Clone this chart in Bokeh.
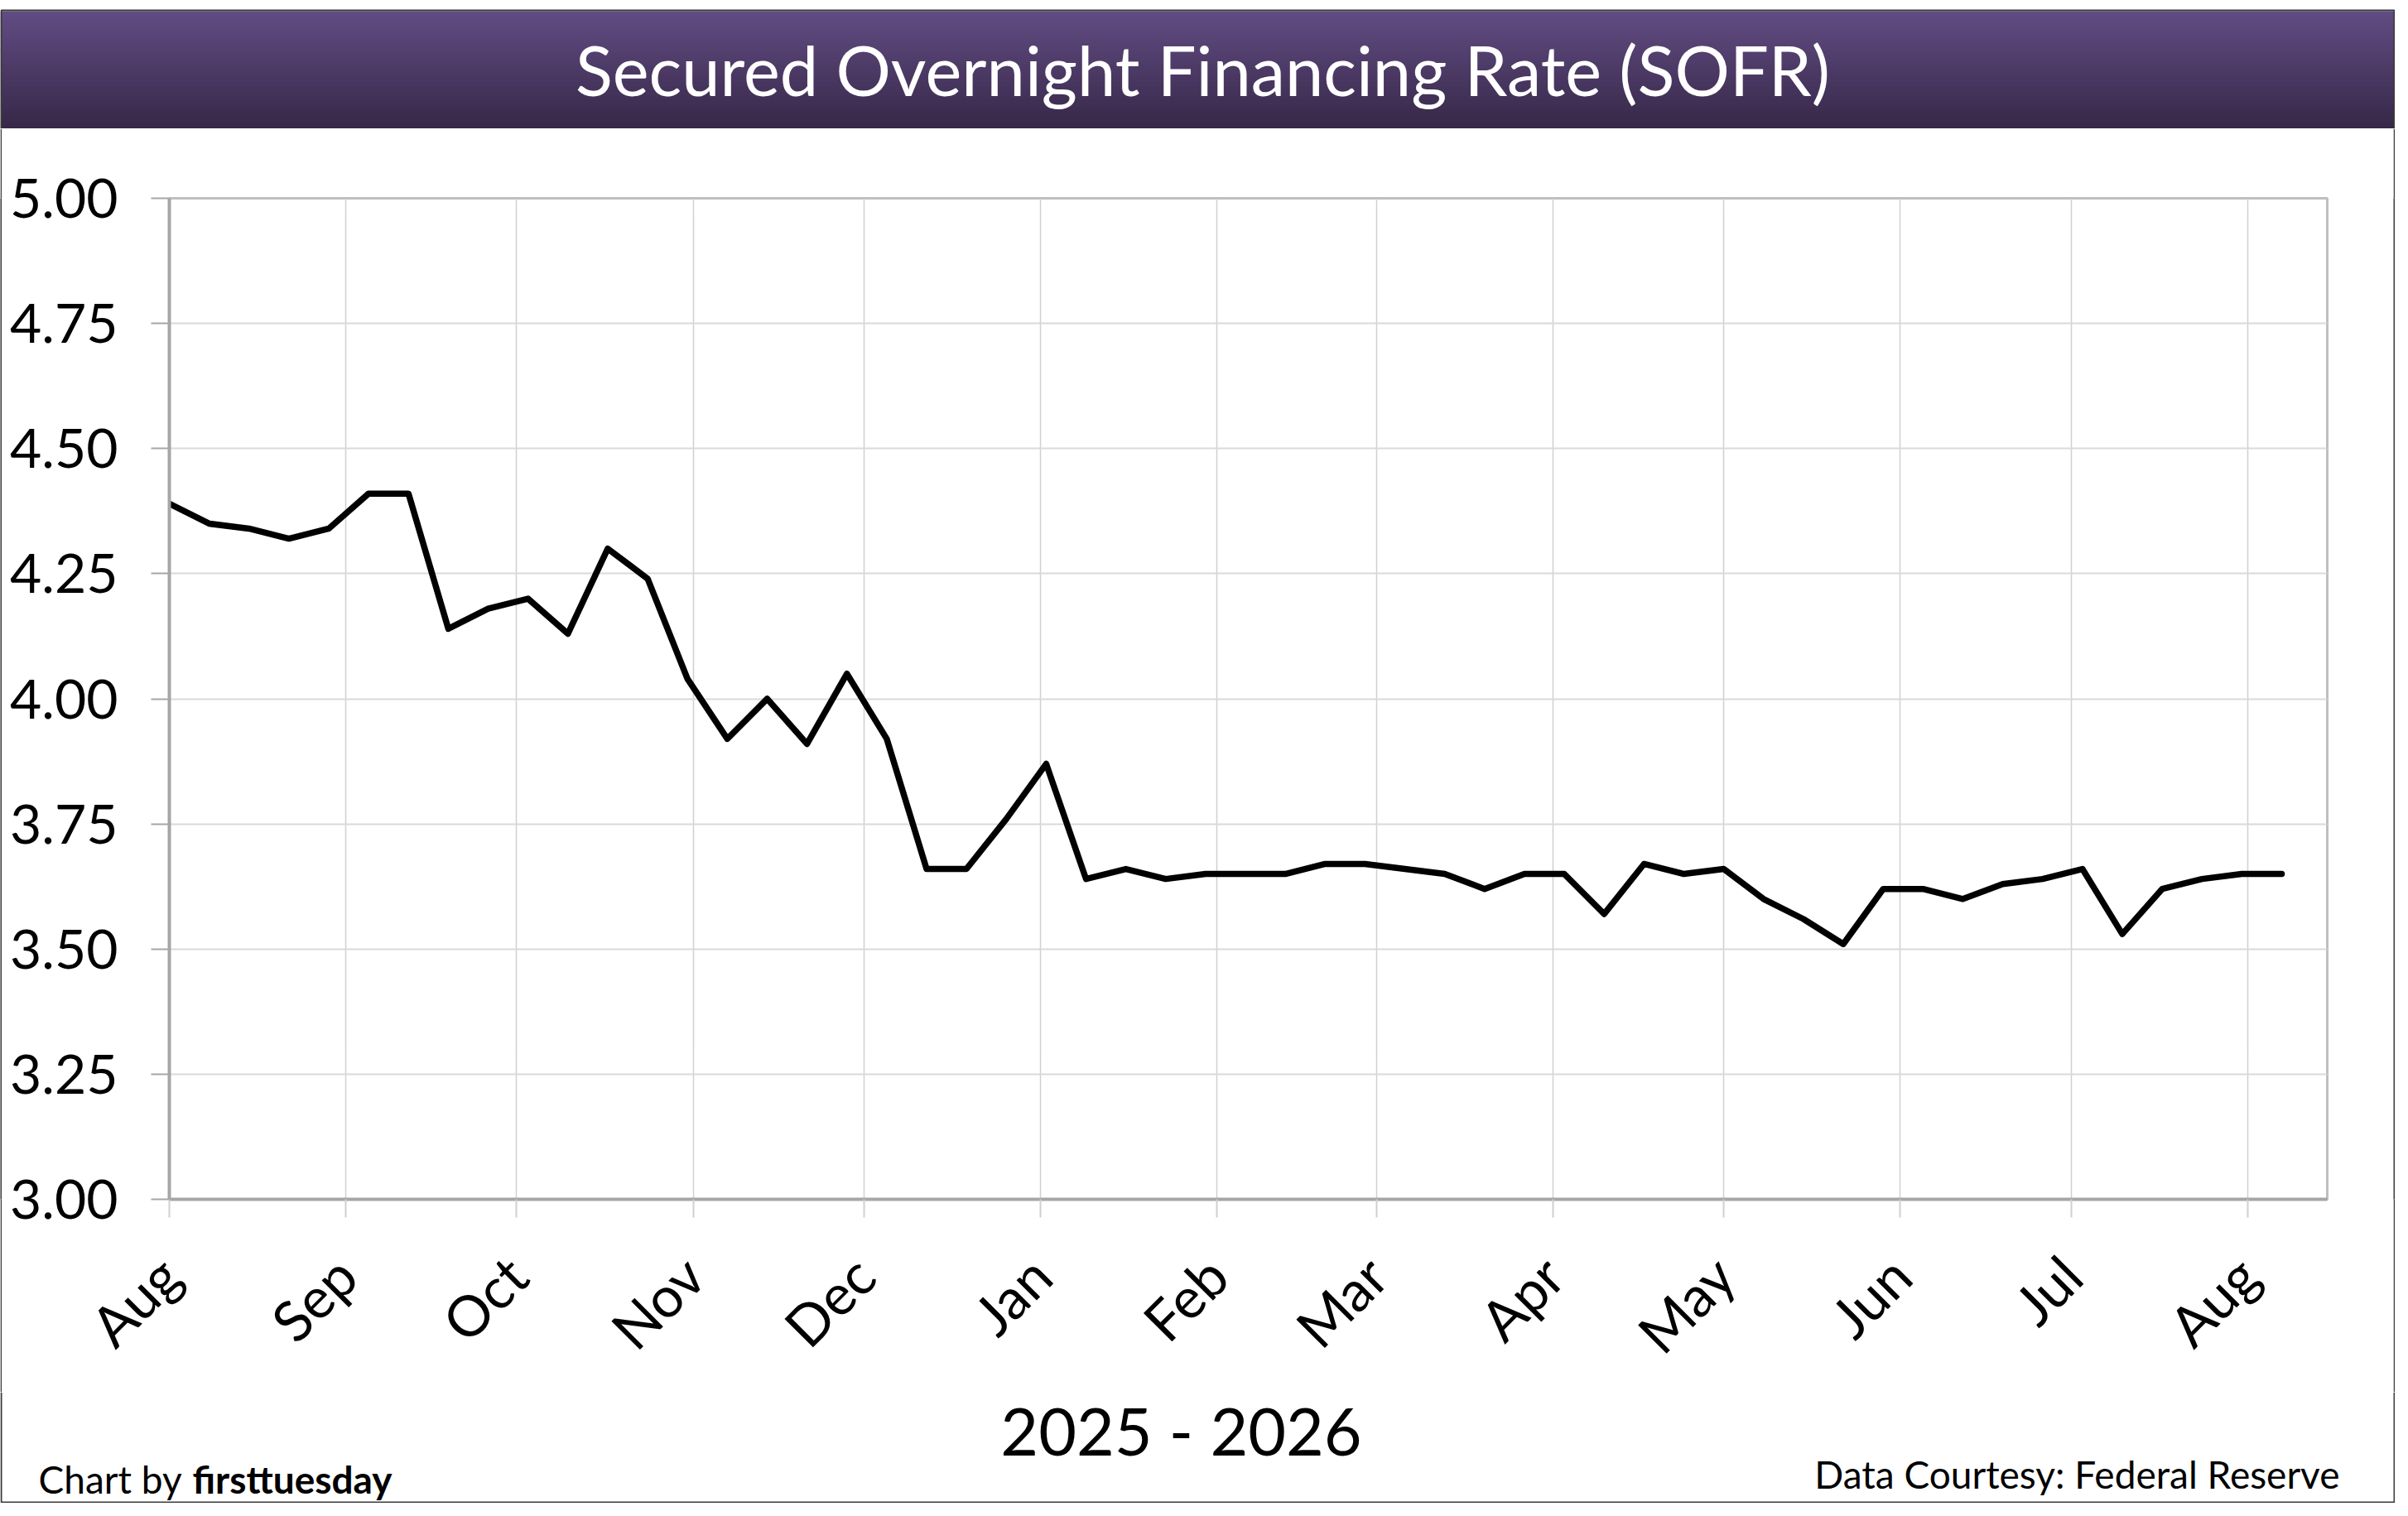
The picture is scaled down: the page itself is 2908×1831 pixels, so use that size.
import math
from datetime import datetime

import pandas as pd
from bokeh.core.properties import value
from bokeh.layouts import column, row
from bokeh.plotting import figure
from bokeh.models import (ColumnDataSource, Range1d, FixedTicker, MonthsTicker,
                          DatetimeTickFormatter, NumeralTickFormatter)
from bokeh.embed import file_html
from bokeh.resources import INLINE

# weekly SOFR readings, Aug 2025 - Aug 2026
week_dates = [
    "2025-08-01", "2025-08-08", "2025-08-15", "2025-08-22", "2025-08-29",
    "2025-09-05", "2025-09-12", "2025-09-19", "2025-09-26",
    "2025-10-03", "2025-10-10", "2025-10-17", "2025-10-24", "2025-10-31",
    "2025-11-07", "2025-11-14", "2025-11-21", "2025-11-28",
    "2025-12-05", "2025-12-12", "2025-12-19", "2025-12-26",
    "2026-01-02", "2026-01-09", "2026-01-16", "2026-01-23", "2026-01-30",
    "2026-02-06", "2026-02-13", "2026-02-20", "2026-02-27",
    "2026-03-06", "2026-03-13", "2026-03-20", "2026-03-27",
    "2026-04-03", "2026-04-10", "2026-04-17", "2026-04-24",
    "2026-05-01", "2026-05-08", "2026-05-15", "2026-05-22", "2026-05-29",
    "2026-06-05", "2026-06-12", "2026-06-19", "2026-06-26",
    "2026-07-03", "2026-07-10", "2026-07-17", "2026-07-24", "2026-07-31",
    "2026-08-07",
]
sofr = [
    4.39, 4.35, 4.34, 4.32, 4.34,
    4.41, 4.41, 4.14, 4.18,
    4.20, 4.13, 4.30, 4.24, 4.04,
    3.92, 4.00, 3.91, 4.05,
    3.92, 3.66, 3.66, 3.76,
    3.87, 3.64, 3.66, 3.64, 3.65,
    3.65, 3.65, 3.67, 3.67,
    3.66, 3.65, 3.62, 3.65,
    3.65, 3.57, 3.67, 3.65,
    3.66, 3.60, 3.56, 3.51, 3.62,
    3.62, 3.60, 3.63, 3.64,
    3.66, 3.53, 3.62, 3.64, 3.65,
    3.65,
]
y_ticks = [3.00, 3.25, 3.50, 3.75, 4.00, 4.25, 4.50, 4.75, 5.00]

title_text = "Secured Overnight Financing Rate (SOFR)"
period_text = "2025 - 2026"
credit_left = "Chart by "
credit_brand = "firsttuesday"
credit_right = "Data Courtesy: Federal Reserve"

FONT = "Lato"
W, H = 2892, 1815
HEAD_H = 155          # title bar block
FOOT_TOP = 1681       # footer block starts here
FRAME_L, FRAME_R, FRAME_T, FRAME_B = 204, 2810, 239, 1448
EDGE = 2              # outer frame line width
BORDER = "#3a3a3a"


def blank(width, height, x0, x1, y0, y1):
    f = figure(width=width, height=height, x_range=Range1d(x0, x1), y_range=Range1d(y0, y1),
               output_backend="svg", toolbar_location=None,
               x_axis_location=None, y_axis_location=None, min_border=0)
    f.grid.visible = False
    f.outline_line_color = None
    f.background_fill_color = "white"
    f.border_fill_color = "white"
    return f


# ---- header: purple gradient bar with title (y grows downward, page pixels)
head = blank(W, HEAD_H, 0, W, HEAD_H, 0)
top_rgb = (0x61, 0x4c, 0x83)
bot_rgb = (0x37, 0x28, 0x48)
bar_top = 13
n = 48
strip_top, strip_bot, strip_col = [], [], []
for i in range(n):
    t = i / (n - 1)
    strip_col.append("#%02x%02x%02x" % tuple(round(a + (b - a) * t) for a, b in zip(top_rgb, bot_rgb)))
    strip_top.append(bar_top + (HEAD_H - bar_top) * i / n)
    strip_bot.append(min(HEAD_H, bar_top + (HEAD_H - bar_top) * (i + 1) / n + 0.8))
head.quad(left=0, right=W, top=strip_top, bottom=strip_bot, fill_color=strip_col, line_color=None)
head.multi_line(xs=[[EDGE / 2, EDGE / 2, W - EDGE / 2, W - EDGE / 2]],
                ys=[[HEAD_H, 12, 12, HEAD_H]], line_color=BORDER, line_width=EDGE)
head.text(x=[1452], y=[83], text=[title_text], text_font=value(FONT), text_font_size="83px",
          text_color="white", text_align="center", text_baseline="middle")

# ---- main chart
MAIN_H = FOOT_TOP - HEAD_H
MAIN_W = W - 2 * EDGE
src = ColumnDataSource(data=dict(date=pd.to_datetime(week_dates), rate=sofr))

p = figure(width=MAIN_W, height=MAIN_H, x_axis_type="datetime",
           x_range=Range1d(datetime(2025, 8, 1), datetime(2026, 8, 15)),
           y_range=Range1d(3.0, 5.0),
           output_backend="svg", toolbar_location=None,
           min_border_left=FRAME_L - EDGE, min_border_right=MAIN_W - (FRAME_R - EDGE),
           min_border_top=FRAME_T - HEAD_H, min_border_bottom=FOOT_TOP - FRAME_B)
p.background_fill_color = "white"
p.border_fill_color = "white"
p.outline_line_color = "#bfbfbf"
p.outline_line_width = 3

p.yaxis.ticker = FixedTicker(ticks=y_ticks)
p.yaxis.formatter = NumeralTickFormatter(format="0.00")
p.yaxis.major_label_text_font = FONT
p.yaxis.major_label_text_font_size = "66px"
p.yaxis.major_label_text_color = "black"
p.yaxis.major_label_standoff = 40
p.yaxis.major_tick_out = 22
p.yaxis.major_tick_in = 0
p.yaxis.major_tick_line_color = "#a6a6a6"
p.yaxis.major_tick_line_width = 2
p.yaxis.minor_tick_line_color = None
p.yaxis.axis_line_color = "#a6a6a6"
p.yaxis.axis_line_width = 4

month_ticker = MonthsTicker(months=list(range(12)))
p.xaxis.ticker = month_ticker
p.xaxis.formatter = DatetimeTickFormatter(months="%b", days="%b")
p.xaxis.major_label_orientation = math.pi / 4
p.xaxis.major_label_text_font = FONT
p.xaxis.major_label_text_font_size = "68px"
p.xaxis.major_label_text_color = "black"
p.xaxis.major_label_standoff = 58
p.xaxis.major_tick_out = 22
p.xaxis.major_tick_in = 0
p.xaxis.major_tick_line_color = "#d0d0d0"
p.xaxis.major_tick_line_width = 2
p.xaxis.minor_tick_line_color = None
p.xaxis.axis_line_color = "#a6a6a6"
p.xaxis.axis_line_width = 4

p.xgrid.ticker = month_ticker
p.xgrid.grid_line_color = "#d0d0d0"
p.xgrid.grid_line_width = 1.5
p.ygrid.ticker = FixedTicker(ticks=y_ticks)
p.ygrid.grid_line_color = "#d9d9d9"
p.ygrid.grid_line_width = 2

p.line("date", "rate", source=src, line_color="black", line_width=7.5,
       line_join="round", line_cap="round")


def edge_strip():
    s = blank(EDGE, MAIN_H, 0, 1, 0, 1)
    s.background_fill_color = BORDER
    s.border_fill_color = BORDER
    return s


# ---- footer: period label and credits (y grows downward, page pixels)
FOOT_H = H - FOOT_TOP
foot = blank(W, FOOT_H, 0, W, H, FOOT_TOP)
foot.multi_line(xs=[[EDGE / 2, EDGE / 2, W - EDGE / 2, W - EDGE / 2]],
                ys=[[FOOT_TOP, H - EDGE / 2, H - EDGE / 2, FOOT_TOP]],
                line_color=BORDER, line_width=EDGE)
foot.text(x=[1426], y=[1727], text=[period_text], text_font=value(FONT), text_font_size="79px",
          text_color="black", text_align="center", text_baseline="middle")
foot.text(x=[46], y=[1786], text=[credit_left], text_font=value(FONT), text_font_size="46px",
          text_color="black", text_align="left", text_baseline="middle")
foot.text(x=[232], y=[1786], text=[credit_brand], text_font=value(FONT), text_font_size="46px",
          text_font_style="bold", text_color="black", text_align="left", text_baseline="middle")
foot.text(x=[2825], y=[1780], text=[credit_right], text_font=value(FONT), text_font_size="46px",
          text_color="black", text_align="right", text_baseline="middle")

layout = column(head, row(edge_strip(), p, edge_strip()), foot)

open("out.html", "w").write(file_html(layout, INLINE))
